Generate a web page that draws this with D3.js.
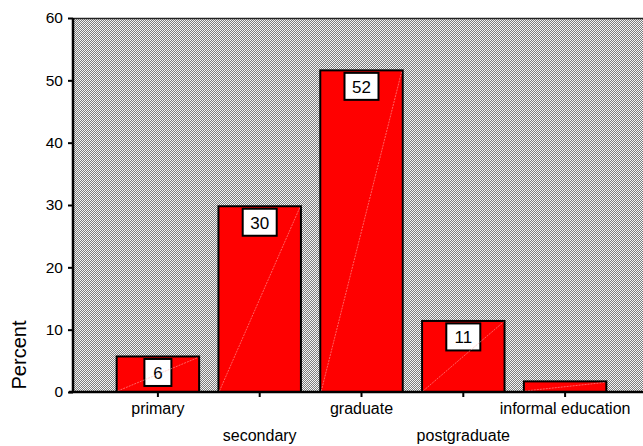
<!DOCTYPE html>
<html>
<head>
<meta charset="utf-8">
<script src="https://cdn.jsdelivr.net/npm/d3@7"></script>
<style>
  html, body { margin: 0; padding: 0; background: #fff; }
  text { font-family: Arial, "Liberation Sans", sans-serif; }
</style>
</head>
<body>
<svg id="canvas" width="643" height="446"></svg>
<script>
// chart data
const categories = ["primary", "secondary", "graduate", "postgraduate", "informal education"];
const percents = [5.7, 29.8, 51.6, 11.4, 1.7];
const barLabels = ["6", "30", "52", "11", ""];
const yTicks = [0, 10, 20, 30, 40, 50, 60];

const svg = d3.select("#canvas");

const plotLeft = 73, plotRight = 643, plotTop = 18, plotBottom = 392;

const y = d3.scaleLinear().domain([0, 60]).range([plotBottom, plotTop]);
const x = d3.scaleBand()
    .domain(categories)
    .range([107, 616])
    .paddingInner(0.19)
    .paddingOuter(0.095);

// dithered grey background
const defs = svg.append("defs");
const pat = defs.append("pattern")
    .attr("id", "dither")
    .attr("width", 2).attr("height", 2)
    .attr("patternUnits", "userSpaceOnUse");
pat.append("rect").attr("width", 2).attr("height", 2).attr("fill", "#f4f4f4");
pat.append("rect").attr("x", 1).attr("y", 0).attr("width", 1).attr("height", 1).attr("fill", "#7c7c7c");
pat.append("rect").attr("x", 0).attr("y", 1).attr("width", 1).attr("height", 1).attr("fill", "#7c7c7c");

svg.append("rect")
    .attr("x", plotLeft).attr("y", plotTop)
    .attr("width", plotRight - plotLeft).attr("height", plotBottom - plotTop)
    .attr("fill", "url(#dither)");

svg.append("line")
    .attr("x1", plotLeft).attr("x2", plotRight)
    .attr("y1", plotTop + 0.5).attr("y2", plotTop + 0.5)
    .attr("stroke", "#222").attr("stroke-width", 1.5);

// Bars
const bars = svg.selectAll("g.bar")
    .data(categories.map((c, i) => ({ cat: c, val: percents[i], label: barLabels[i] })))
    .enter()
    .append("g")
    .attr("class", "bar");

bars.append("rect")
    .attr("x", d => x(d.cat))
    .attr("y", d => y(d.val))
    .attr("width", x.bandwidth())
    .attr("height", d => plotBottom - y(d.val))
    .attr("fill", "#ff0000")
    .attr("stroke", "#000")
    .attr("stroke-width", 2);

// Value boxes
const lab = bars.filter(d => d.label !== "");
lab.append("rect")
    .attr("x", d => x(d.cat) + x.bandwidth() / 2 - (d.label.length > 1 ? 17 : 13.5))
    .attr("y", d => y(d.val) + 2.5)
    .attr("width", d => d.label.length > 1 ? 34 : 27)
    .attr("height", 27)
    .attr("fill", "#fff")
    .attr("stroke", "#000")
    .attr("stroke-width", 2);

lab.append("text")
    .attr("x", d => x(d.cat) + x.bandwidth() / 2)
    .attr("y", d => y(d.val) + 16.5)
    .attr("dy", "0.35em")
    .attr("text-anchor", "middle")
    .attr("font-size", 17)
    .attr("fill", "#000")
    .text(d => d.label);

// faint diagonal in each bar
bars.append("line")
    .attr("x1", d => x(d.cat) + 1)
    .attr("y1", plotBottom - 1)
    .attr("x2", d => x(d.cat) + x.bandwidth() - 1)
    .attr("y2", d => y(d.val) + 1)
    .attr("stroke", "#ffb0b0")
    .attr("stroke-width", 0.7)
    .attr("stroke-dasharray", "2,1")
    .attr("opacity", 0.8);

// Y axis
const yAxis = svg.append("g")
    .attr("transform", `translate(${plotLeft},0)`)
    .call(d3.axisLeft(y).tickValues(yTicks).tickSize(5).tickPadding(5));
yAxis.select(".domain").attr("stroke", "#000").attr("stroke-width", 2.5)
    .attr("d", `M0,${plotTop}V${plotBottom}`);
yAxis.selectAll(".tick line").attr("stroke", "#000").attr("stroke-width", 2);
yAxis.selectAll(".tick text")
    .attr("font-size", 15.5)
    .attr("font-family", "Arial, 'Liberation Sans', sans-serif")
    .attr("fill", "#000");

// X axis
const xAxis = svg.append("g")
    .attr("transform", `translate(0,${plotBottom})`)
    .call(d3.axisBottom(x).tickSize(5).tickSizeOuter(0).tickPadding(5));
xAxis.select(".domain").attr("stroke", "#000").attr("stroke-width", 2.5)
    .attr("d", `M${plotLeft - 4},0H${plotRight}`);
xAxis.selectAll(".tick line").attr("stroke", "#000").attr("stroke-width", 2);
xAxis.selectAll(".tick text")
    .attr("font-size", 16)
    .attr("font-family", "Arial, 'Liberation Sans', sans-serif")
    .attr("fill", "#000")
    .attr("y", 11)
    .attr("dy", (d, i) => i % 2 === 0 ? "0.71em" : "2.4em");

// Y label
svg.append("text")
    .attr("transform", "translate(26,355) rotate(-90)")
    .attr("text-anchor", "middle")
    .attr("font-size", 20)
    .attr("fill", "#000")
    .text("Percent");
</script>
</body>
</html>
